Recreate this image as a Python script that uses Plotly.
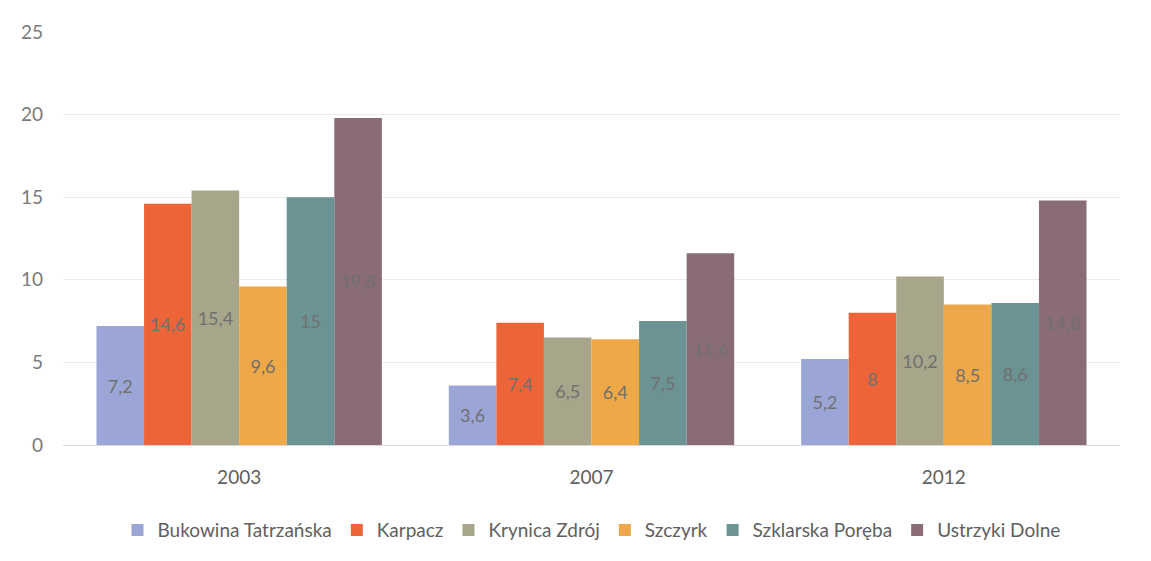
import plotly.graph_objects as go

years = ["2003", "2007", "2012"]
series_names = ["Bukowina Tatrzańska", "Karpacz", "Krynica Zdrój", "Szczyrk", "Szklarska Poręba", "Ustrzyki Dolne"]
bukowina = [7.2, 3.6, 5.2]
karpacz = [14.6, 7.4, 8.0]
krynica = [15.4, 6.5, 10.2]
szczyrk = [9.6, 6.4, 8.5]
szklarska = [15.0, 7.5, 8.6]
ustrzyki = [19.8, 11.6, 14.8]
y_ticks = [0, 5, 10, 15, 20, 25]

colors = ["#9ba6d6", "#ee6439", "#a7a58a", "#eea847", "#6b9393", "#8a6b78"]
all_values = [bukowina, karpacz, krynica, szczyrk, szklarska, ustrzyki]

def fmt(v):
    s = ("%g" % v)
    return s.replace(".", ",")

fig = go.Figure()
for name, vals, col in zip(series_names, all_values, colors):
    fig.add_trace(go.Bar(
        name=name, x=years, y=vals,
        marker=dict(color=col, line=dict(width=0)),
        text=[fmt(v) for v in vals],
        textposition="inside", insidetextanchor="middle",
        textfont=dict(color="#707070", size=18, family="Lato"),
        textangle=0,
    ))

fig.update_layout(
    barmode="group", bargap=0.19, bargroupgap=0,
    width=1143, height=553,
    margin=dict(l=55, r=31, t=22, b=114),
    paper_bgcolor="white", plot_bgcolor="white",
    font=dict(family="Lato", color="#666666", size=19),
    uniformtext=dict(minsize=18, mode="show"),
    yaxis=dict(range=[0, 25], tickvals=y_ticks, showgrid=True, gridcolor="#ebebeb",
               zeroline=False, showline=False, ticks="", ticklabelstandoff=19,
               tickfont=dict(size=19, color="#7a7a7a")),
    xaxis=dict(showline=True, linecolor="#d9d9d9", ticks="", ticklabelstandoff=15,
               tickfont=dict(size=19, color="#606060")),
    legend=dict(orientation="h", x=0.5, xanchor="center", y=-0.16, yanchor="top",
                font=dict(size=19, color="#606060"), itemwidth=30, traceorder="normal"),
)
fig.write_html("out.html")
